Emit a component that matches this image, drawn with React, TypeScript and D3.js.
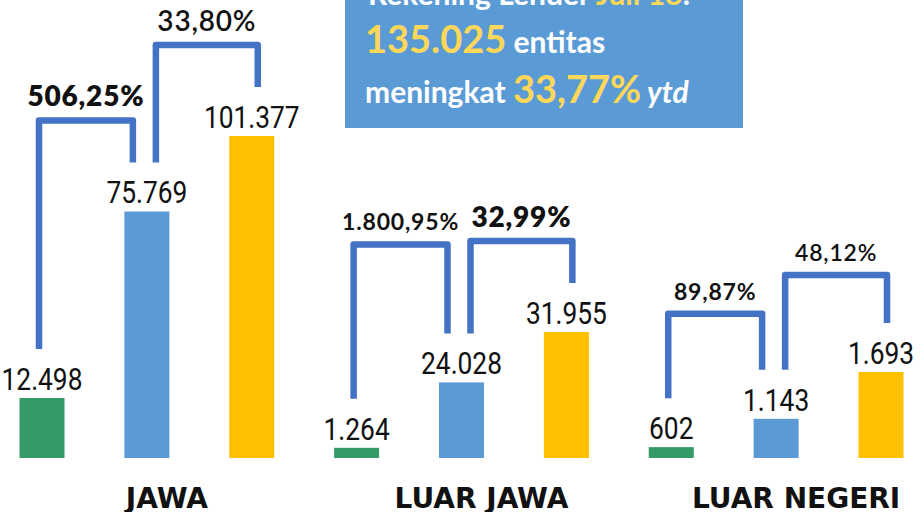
import React from "react";
import * as d3 from "d3";

// ---- data ----
const categories = ["JAWA", "LUAR JAWA", "LUAR NEGERI"];
const seriesNames = ["Des 16", "Des 17", "Jul 18"];
const valuesDes16 = [12498, 1264, 602];
const valuesDes17 = [75769, 24028, 1143];
const valuesJul18 = [101377, 31955, 1693];
const growthA = ["506,25%", "1.800,95%", "89,87%"];
const growthB = ["33,80%", "32,99%", "48,12%"];
const headlineTitle = ["Rekening Lender ", "Juli 18", ":"];
const headlineTotal = ["135.025", " entitas"];
const headlineGrowth = ["meningkat ", "33,77%", " ytd"];

// ---- layout / style (not data) ----
const seriesColors = ["#359A66", "#5B9BD5", "#FFC000"];
const groupExponent = [1, 2, 2];
const groupFloor = [-7856, -9385, 0];
const groupHeight = [322, 126, 86];
const liftA = [0, 47, 14];
const liftB = [0, 0, 6];
const growthAStyle = [
  { size: 28, weight: 800 },
  { size: 23, weight: 700 },
  { size: 23, weight: 700 },
];
const growthBStyle = [
  { size: 28, weight: 600 },
  { size: 28, weight: 800 },
  { size: 23, weight: 600 },
];

export default function App() {
  const W = 924;
  const H = 512;
  const baseline = 458;
  const barW = 45;
  const fmt = d3
    .formatLocale({ decimal: ",", thousands: ".", grouping: [3], currency: ["", ""] })
    .format(",d");
  const slotKeys = categories.flatMap((c) => seriesNames.map((s) => `${c}|${s}`));
  const slotX = d3.scalePoint<string>().domain(slotKeys).range([42, 881]);
  const seriesValues = [valuesDes16, valuesDes17, valuesJul18];
  const bracketColor = "#4472C4";
  const valueFont = "Roboto, 'Liberation Sans', sans-serif";
  const boldFont = "Lato, 'Open Sans', sans-serif";
  const catFont = "'DejaVu Sans', Verdana, sans-serif";

  return (
    <svg
      width={W}
      height={H}
      style={{ position: "absolute", left: 0, top: 0, display: "block", background: "#fff" }}
    >
      {/* headline box */}
      <rect x={345} y={-10} width={398} height={138} fill="#5B9BD5" />
      <text x={368} y={5} fontFamily={boldFont} fontWeight={700} fontSize={30} fill="#fff">
        <tspan>{headlineTitle[0]}</tspan>
        <tspan fill="#FFD85A">{headlineTitle[1]}</tspan>
        <tspan>{headlineTitle[2]}</tspan>
      </text>
      <text x={365} y={53} fontFamily={boldFont} fontWeight={700} fill="#fff">
        <tspan fontSize={38} fill="#FFD85A">{headlineTotal[0]}</tspan>
        <tspan fontSize={30}>{headlineTotal[1]}</tspan>
      </text>
      <text x={365} y={103} fontFamily={boldFont} fontWeight={700} fill="#fff">
        <tspan fontSize={30}>{headlineGrowth[0]}</tspan>
        <tspan fontSize={38} fill="#FFD85A">{headlineGrowth[1]}</tspan>
        <tspan fontSize={30} fontStyle="italic">{headlineGrowth[2]}</tspan>
      </text>

      {categories.map((cat, gi) => {
        const vals = seriesValues.map((s) => s[gi]);
        const y = d3
          .scalePow()
          .exponent(groupExponent[gi])
          .domain([groupFloor[gi], d3.max(vals) as number])
          .range([baseline, baseline - groupHeight[gi]]);
        const cx = seriesNames.map((s) => slotX(`${cat}|${s}`) as number);
        const tops = vals.map((v) => y(v));
        const legBottom = tops.map((t) => t - 49);
        const xA1 = cx[0] - 3;
        const xA2 = cx[1] - 14;
        const xB1 = cx[1] + 9;
        const xB2 = cx[2] + 6;
        const topA = Math.min(legBottom[0], legBottom[1]) - 42 - liftA[gi];
        const topB = Math.min(legBottom[1], legBottom[2]) - 42 - liftB[gi];
        return (
          <g key={cat}>
            {vals.map((v, si) => (
              <g key={si}>
                <rect
                  x={cx[si] - barW / 2}
                  y={tops[si]}
                  width={barW}
                  height={baseline - tops[si]}
                  fill={seriesColors[si]}
                />
                <text
                  transform={`translate(${cx[si]},${tops[si] - 8}) scale(0.85,1)`}
                  textAnchor="middle"
                  fontFamily={valueFont}
                  fontSize={31}
                  fill="#111"
                >
                  {fmt(v)}
                </text>
              </g>
            ))}
            <path
              d={`M${xA1},${legBottom[0]}V${topA}H${xA2}V${legBottom[1]}`}
              fill="none"
              stroke={bracketColor}
              strokeWidth={6.5}
              strokeLinejoin="round"
            />
            <path
              d={`M${xB1},${legBottom[1]}V${topB}H${xB2}V${legBottom[2]}`}
              fill="none"
              stroke={bracketColor}
              strokeWidth={6.5}
              strokeLinejoin="round"
            />
            <text
              x={(xA1 + xA2) / 2}
              y={topA - 14}
              textAnchor="middle"
              fontFamily={boldFont}
              fontSize={growthAStyle[gi].size}
              fontWeight={growthAStyle[gi].weight}
              letterSpacing={0.8}
              fill="#111"
            >
              {growthA[gi]}
            </text>
            <text
              x={(xB1 + xB2) / 2}
              y={topB - 14}
              textAnchor="middle"
              fontFamily={boldFont}
              fontSize={growthBStyle[gi].size}
              fontWeight={growthBStyle[gi].weight}
              letterSpacing={0.8}
              fill="#111"
            >
              {growthB[gi]}
            </text>
            <text
              x={cx[1] + 20}
              y={508}
              textAnchor="middle"
              fontFamily={catFont}
              fontSize={28}
              fontWeight={700}
              fill="#111"
            >
              {cat}
            </text>
          </g>
        );
      })}
    </svg>
  );
}
